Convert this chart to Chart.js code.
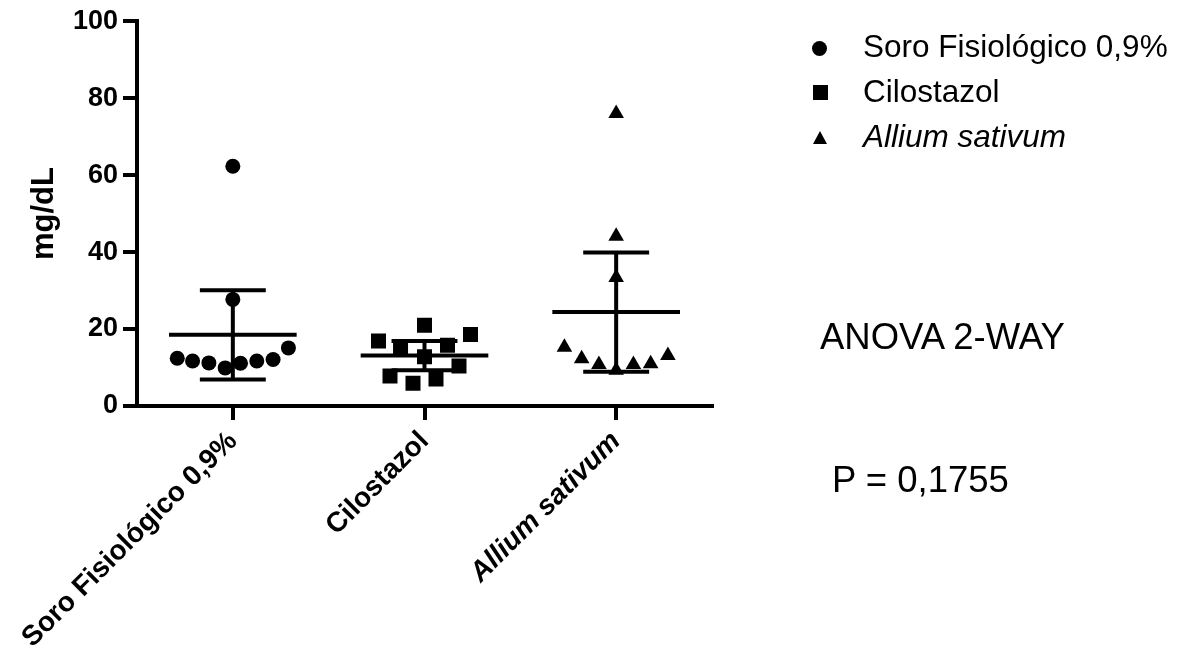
<!DOCTYPE html>
<html>
<head>
<meta charset="utf-8">
<script src="https://cdn.jsdelivr.net/npm/chart.js@4/dist/chart.umd.min.js"></script>
<style>
  html, body { margin: 0; padding: 0; background: #fff; }
  #wrap { position: relative; width: 1180px; height: 652px; font-family: 'Liberation Sans', Arial, sans-serif; color: #000; }
  #wrap canvas { position: absolute; left: 0; top: 0; }
  .lbl { position: absolute; white-space: nowrap; line-height: 1; }
  .leg { font-size: 31.5px; left: 863px; }
  .note { font-size: 36.5px; }
  .mk { position: absolute; background: #000; }
  .mk.circle { width: 15px; height: 15px; border-radius: 50%; left: 812px; top: 41px; }
  .mk.square { width: 15px; height: 15px; left: 813px; top: 85px; }
  .mk.tri { width: 0; height: 0; background: none; left: 813px; top: 131px;
            border-left: 7px solid transparent; border-right: 7px solid transparent; border-bottom: 13px solid #000; }
</style>
</head>
<body>
<div id="wrap">
  <canvas id="chart" width="1180" height="652"></canvas>
  <div class="mk circle"></div>
  <div class="lbl leg" style="top:31px;">Soro Fisiológico 0,9%</div>
  <div class="mk square"></div>
  <div class="lbl leg" style="top:76px;">Cilostazol</div>
  <div class="mk tri"></div>
  <div class="lbl leg" style="top:121px;"><i>Allium sativum</i></div>
  <div class="lbl note" style="left:820px; top:319px;">ANOVA 2-WAY</div>
  <div class="lbl note" style="left:832px; top:462px;">P = 0,1755</div>
</div>
<script>
// groups (x categories)
const categories = ['Soro Fisiológico 0,9%', 'Cilostazol', 'Allium sativum'];
const italicCats = [false, false, true];

// individual values, mg/dL
const soroValues   = [62.3, 27.7, 12.4, 11.7, 11.2, 9.9, 11.1, 11.7, 12.1, 15.1];
const ciloValues   = [16.9, 14.7, 21.0, 15.8, 18.6, 12.8, 10.4, 7.8, 5.9, 7.0];
const alliumValues = [76.0, 44.1, 33.4, 15.3, 12.3, 10.8, 9.3, 10.8, 11.0, 13.1];

// horizontal spread of the points inside a column (category units)
const soroJitter   = [0, 0, -0.29, -0.21, -0.125, -0.04, 0.04, 0.125, 0.21, 0.29];
const ciloJitter   = [-0.24, -0.125, 0, 0.12, 0.24, 0, 0.18, -0.18, -0.06, 0.06];
const alliumJitter = [0, 0, 0, -0.27, -0.18, -0.09, 0, 0.09, 0.18, 0.27];

// mean and error bar half-length per group
const means = [18.5, 13.1, 24.4];
const errs  = [11.6, 3.8, 15.5];

const yTicks = [0, 20, 40, 60, 80, 100];

const MEAN_HALF = 0.333;
const CAP_HALF = 0.172;
const FONT = "'Liberation Sans', Arial, sans-serif";

Chart.defaults.font.family = FONT;
Chart.defaults.color = '#000';

function pts(values, jitter, idx) {
  return values.map((v, k) => ({ x: idx + jitter[k], y: v }));
}

function whiskers() {
  const out = [];
  means.forEach((m, i) => {
    const lo = m - errs[i], hi = m + errs[i];
    out.push(
      { x: i - MEAN_HALF, y: m }, { x: i + MEAN_HALF, y: m }, { x: i, y: null },
      { x: i, y: lo }, { x: i, y: hi }, { x: i, y: null },
      { x: i - CAP_HALF, y: hi }, { x: i + CAP_HALF, y: hi }, { x: i, y: null },
      { x: i - CAP_HALF, y: lo }, { x: i + CAP_HALF, y: lo }, { x: i, y: null }
    );
  });
  return out;
}

const pointBase = { backgroundColor: '#000', borderColor: '#000', borderWidth: 0, pointHoverRadius: 0 };

new Chart(document.getElementById('chart'), {
  type: 'scatter',
  data: {
    datasets: [
      { label: categories[0], data: pts(soroValues, soroJitter, 0), pointStyle: 'circle', pointRadius: 7.5, ...pointBase },
      { label: categories[1], data: pts(ciloValues, ciloJitter, 1), pointStyle: 'rect', pointRadius: 10.6, ...pointBase },
      { label: categories[2], data: pts(alliumValues, alliumJitter, 2), pointStyle: 'triangle', pointRadius: 9, ...pointBase },
      { label: 'mean ± err', data: whiskers(), showLine: true, spanGaps: false, borderColor: '#000',
        borderWidth: 4, pointRadius: 0, tension: 0 }
    ]
  },
  options: {
    responsive: false,
    animation: false,
    events: [],
    layout: { padding: { top: 20, right: 468, bottom: 0, left: 0 } },
    plugins: { legend: { display: false }, tooltip: { enabled: false } },
    scales: {
      x: {
        type: 'linear', min: -0.5, max: 2.5,
        afterBuildTicks: (s) => { s.ticks = categories.map((c, i) => ({ value: i })); },
        afterFit: (s) => { s.height = 246; s.paddingLeft = 0; s.paddingRight = 0; },
        border: { display: true, color: '#000', width: 4 },
        grid: { drawOnChartArea: false, drawTicks: true, tickLength: 14, color: '#000', lineWidth: 4 },
        ticks: {
          autoSkip: false, minRotation: 45, maxRotation: 45, padding: 5, color: '#000',
          callback: (v) => categories[v],
          font: (ctx) => ({ family: FONT, size: 28, weight: 'bold', style: italicCats[ctx.index] ? 'italic' : 'normal' })
        }
      },
      y: {
        min: 0, max: 100,
        afterBuildTicks: (s) => { s.ticks = yTicks.map(v => ({ value: v })); },
        afterFit: (s) => { s.width = 137; },
        border: { display: true, color: '#000', width: 4 },
        grid: { drawOnChartArea: false, drawTicks: true, tickLength: 14, color: '#000', lineWidth: 4 },
        ticks: { padding: 5, color: '#000', font: { family: FONT, size: 27, weight: 'bold' } },
        title: { display: true, text: 'mg/dL', color: '#000', padding: { top: 26, bottom: 0 },
                 font: { family: FONT, size: 31, weight: 'bold' } }
      }
    }
  }
});
</script>
</body>
</html>
